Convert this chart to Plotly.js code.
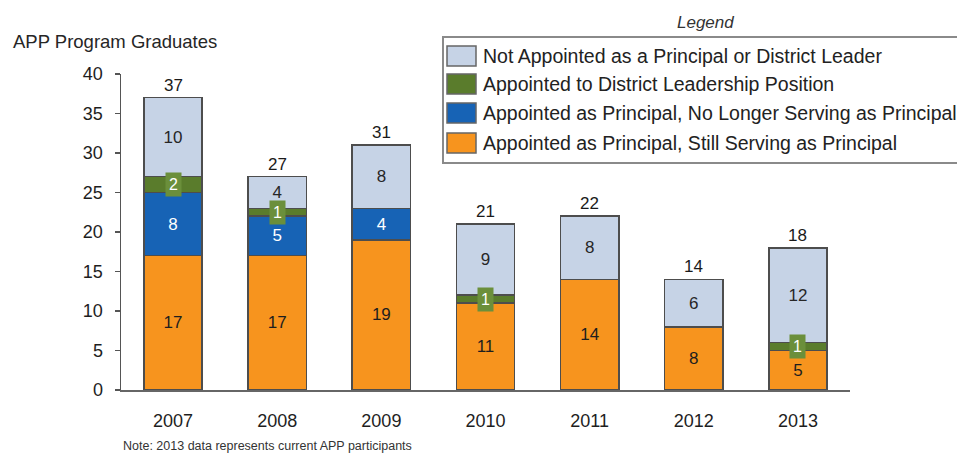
<!DOCTYPE html>
<html>
<head>
<meta charset="utf-8">
<script src="https://cdn.plot.ly/plotly-3.0.1.min.js"></script>
<style>html,body{margin:0;padding:0;background:#fff;}#chart{width:957px;height:455px;}</style>
</head>
<body>
<div id="chart"></div>
<script>
// ---- data ----
const years = ['2007','2008','2009','2010','2011','2012','2013'];
const stillServing = [17,17,19,11,14,8,5];
const noLongerServing = [8,5,4,0,0,0,0];
const districtLeader = [2,1,0,1,0,0,1];
const notAppointed = [10,4,8,9,8,6,12];
const totals = [37,27,31,21,22,14,18];
const seriesNames = [
  'Not Appointed as a Principal or District Leader',
  'Appointed to District Leadership Position',
  'Appointed as Principal, No Longer Serving as Principal',
  'Appointed as Principal, Still Serving as Principal'
];
const yTitle = 'APP Program Graduates';
const noteText = 'Note: 2013 data represents current APP participants';
const legendTitle = 'Legend';

// ---- styles ----
const W = 957, H = 455;
const M = {l:121, r:107, t:74, b:65};
const PW = W - M.l - M.r, PH = H - M.t - M.b;
const px = x => (x - M.l) / PW;
const py = y => (H - M.b - y) / PH;
const FONT = 'Liberation Sans, Arial, sans-serif';
const colors = {
  notApp: '#c6d3e6', district: '#5a7c2c', noLonger: '#1763b5', still: '#f7941e',
  outline: '#4d4d4d', label: '#6b8f3b'
};
const nz = a => a.map(v => v > 0 ? v : null);
const txt = a => a.map(v => v > 0 ? String(v) : '');

function barTrace(vals, name, color, textColor, showText) {
  return {
    type: 'bar', x: years, y: nz(vals), name: name,
    marker: {color: color, line: {color: colors.outline, width: 1.5}},
    width: 0.56,
    text: showText ? txt(vals) : vals.map(() => ''),
    textposition: 'inside', insidetextanchor: 'middle',
    constraintext: 'none',
    textfont: {family: FONT, size: 17, color: textColor},
    hoverinfo: 'x+y+name', showlegend: false
  };
}

const data = [
  barTrace(stillServing, seriesNames[3], colors.still, '#1e1e1e', true),
  barTrace(noLongerServing, seriesNames[2], colors.noLonger, '#ffffff', true),
  barTrace(districtLeader, seriesNames[1], colors.district, '#ffffff', false),
  barTrace(notAppointed, seriesNames[0], colors.notApp, '#262626', true)
];

const annotations = [];
// totals (category axis: use category index)
years.forEach((yr, i) => {
  annotations.push({x: i, y: totals[i], xref: 'x', yref: 'y', text: String(totals[i]),
    showarrow: false, yanchor: 'bottom', yshift: 1,
    font: {family: FONT, size: 17, color: '#1a1a1a'}});
});
// green boxed labels
years.forEach((yr, i) => {
  if (districtLeader[i] > 0) {
    const base = stillServing[i] + noLongerServing[i];
    annotations.push({x: i, y: base + districtLeader[i] / 2, xref: 'x', yref: 'y',
      text: String(districtLeader[i]), showarrow: false,
      bgcolor: colors.label, borderpad: 3,
      font: {family: FONT, size: 16, color: '#ffffff'}});
  }
});
// titles and note
annotations.push({x: px(11), y: py(42), xref: 'paper', yref: 'paper', xanchor: 'left', yanchor: 'middle',
  text: yTitle, showarrow: false, font: {family: FONT, size: 18.5, color: '#262626'}});
annotations.push({x: px(121), y: py(446), xref: 'paper', yref: 'paper', xanchor: 'left', yanchor: 'middle',
  text: noteText, showarrow: false, font: {family: FONT, size: 12.5, color: '#333'}});
annotations.push({x: px(705), y: py(22), xref: 'paper', yref: 'paper', xanchor: 'center', yanchor: 'middle',
  text: '<i>' + legendTitle + '</i>', showarrow: false, font: {family: FONT, size: 17, color: '#333'}});

// custom legend
const shapes = [{type: 'rect', xref: 'paper', yref: 'paper', x0: px(443), x1: px(975), y0: py(37), y1: py(163),
  line: {color: '#8a8a8a', width: 2}, fillcolor: 'rgba(0,0,0,0)'}];
const legendColors = [colors.notApp, colors.district, colors.noLonger, colors.still];
const rowY = [56, 84, 113, 143];
seriesNames.forEach((nm, k) => {
  shapes.push({type: 'rect', xref: 'paper', yref: 'paper', x0: px(447), x1: px(476),
    y0: py(rowY[k] - 10), y1: py(rowY[k] + 10), fillcolor: legendColors[k],
    line: {color: '#666', width: 1.5}});
  annotations.push({x: px(481), y: py(rowY[k]), xref: 'paper', yref: 'paper', xanchor: 'left', yanchor: 'middle',
    text: nm, showarrow: false, font: {family: FONT, size: 19.5, color: '#222'}});
});

const layout = {
  width: W, height: H,
  margin: {l: M.l, r: M.r, t: M.t, b: M.b, autoexpand: false},
  paper_bgcolor: '#fff', plot_bgcolor: '#fff',
  barmode: 'stack', showlegend: false,
  font: {family: FONT, color: '#222'},
  xaxis: {type: 'category', range: [-0.5, 6.5], showgrid: false, zeroline: false,
    showline: true, linecolor: '#666', linewidth: 1.5, ticks: '',
    tickfont: {family: FONT, size: 18, color: '#1e1e1e'}, ticklabelstandoff: 14, fixedrange: true},
  yaxis: {range: [0, 40], dtick: 5, showgrid: false, zeroline: false,
    showline: true, linecolor: '#555', linewidth: 1.5, ticks: 'outside', ticklen: 5,
    tickcolor: '#555', tickwidth: 1.5, ticklabelstandoff: 8,
    tickfont: {family: FONT, size: 18, color: '#1e1e1e'}, fixedrange: true},
  annotations: annotations, shapes: shapes
};
Plotly.newPlot('chart', data, layout, {displayModeBar: false, staticPlot: true});
</script>
</body>
</html>
